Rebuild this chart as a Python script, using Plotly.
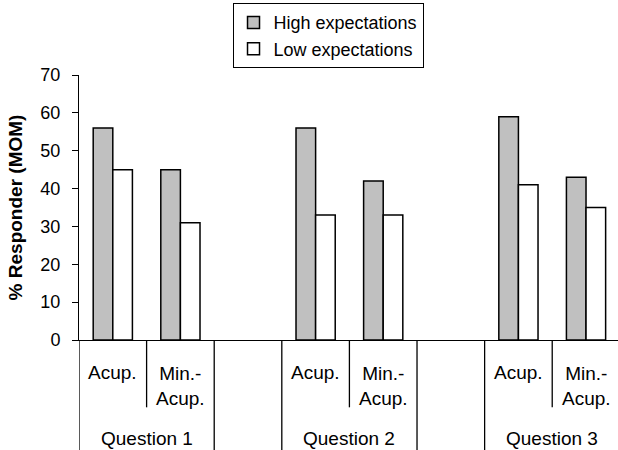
import plotly.graph_objects as go

# Survey results: share of responders per question and treatment arm
questions = ["Question 1", "Question 2", "Question 3"]
treatments = ["Acup.", "Min.-<br>Acup."]
high_expectations = [56, 45, 56, 42, 59, 43]
low_expectations = [45, 31, 33, 33, 41, 35]
y_ticks = [0, 10, 20, 30, 40, 50, 60, 70]

FONT = "Liberation Sans, Arial, sans-serif"
SLOTS_PER_GROUP = len(treatments) + 1  # one empty slot after each question

# x position of each bar pair: question block, then treatment within block
positions = [qi * SLOTS_PER_GROUP + ti
             for qi in range(len(questions)) for ti in range(len(treatments))]

fig = go.Figure()
fig.add_trace(go.Bar(
    x=positions, y=high_expectations, name="High expectations",
    marker=dict(color="#c0c0c0", line=dict(color="black", width=1.5)),
))
fig.add_trace(go.Bar(
    x=positions, y=low_expectations, name="Low expectations",
    marker=dict(color="white", line=dict(color="black", width=1.5)),
))

label_font = dict(family=FONT, size=19, color="black")
sep_line = dict(color="black", width=1.3)

# category labels and separators drawn under the axis
for qi, q in enumerate(questions):
    start = qi * SLOTS_PER_GROUP
    for ti, t in enumerate(treatments):
        multi = "<br>" in t
        fig.add_annotation(
            x=start + ti, y=-0.175 if multi else -0.123, xref="x", yref="paper",
            text=t, showarrow=False, yanchor="middle", xanchor="center",
            font=label_font,
        )
    fig.add_annotation(
        x=start + (len(treatments) - 1) / 2, y=-0.372, xref="x", yref="paper",
        text=q, showarrow=False, yanchor="middle", xanchor="center",
        font=label_font,
    )
    # short separators between treatments
    for ti in range(1, len(treatments)):
        xb = start + ti - 0.5
        fig.add_shape(type="line", xref="x", yref="paper", x0=xb, x1=xb,
                      y0=0, y1=-0.254, line=sep_line)
    # long separators at the edges of each question block
    for xb in (start - 0.5, start + len(treatments) - 0.5):
        fig.add_shape(type="line", xref="x", yref="paper", x0=xb, x1=xb,
                      y0=0, y1=-0.42, line=sep_line)

fig.update_layout(
    width=618, height=450,
    margin=dict(l=79, r=0, t=75, b=110),
    paper_bgcolor="white", plot_bgcolor="white",
    barmode="group", bargap=0.42, bargroupgap=0,
    font=dict(family=FONT, size=18, color="black"),
    showlegend=True,
    legend=dict(
        x=0.462, xanchor="center", y=1.271, yanchor="top",
        bordercolor="black", borderwidth=1, bgcolor="white",
        font=dict(family=FONT, size=18, color="black"),
        itemwidth=30, tracegroupgap=0,
    ),
    xaxis=dict(
        range=[-0.5, 7.473], showticklabels=False, ticks="",
        showline=True, linecolor="black", linewidth=1,
        showgrid=False, zeroline=False, fixedrange=True,
    ),
    yaxis=dict(
        range=[0, 70], tickvals=y_ticks, ticks="outside", ticklen=6,
        tickcolor="black", showline=True, linecolor="black", linewidth=1,
        showgrid=False, zeroline=False, ticklabelstandoff=8,
        tickfont=dict(family=FONT, size=18, color="black"),
        title=dict(text="<b>% Responder (MOM)</b>",
                   font=dict(family=FONT, size=19, color="black"), standoff=12),
    ),
)

fig.write_html("out.html")
